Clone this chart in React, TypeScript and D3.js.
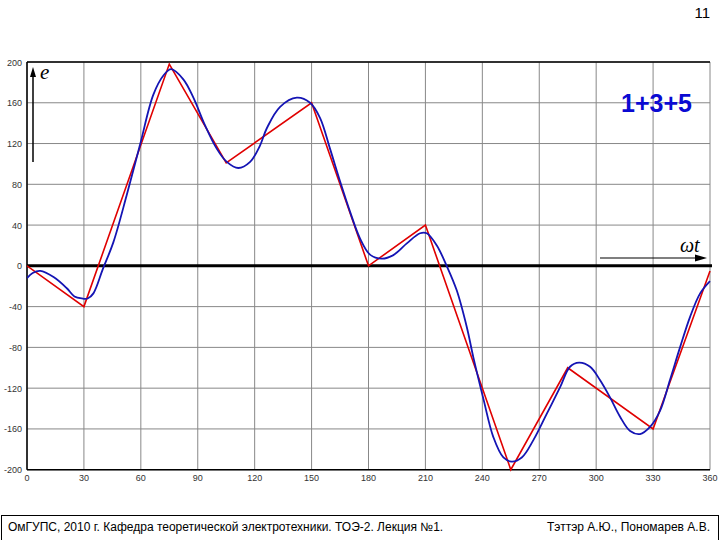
import React from "react";
import * as d3 from "d3";

const xTicks = [0, 30, 60, 90, 120, 150, 180, 210, 240, 270, 300, 330, 360];
const yTicks = [200, 160, 120, 80, 40, 0, -40, -80, -120, -160, -200];
const yTickLabels = ["200", "160", "120", "80", "40", "0", "-40", "-80", "-120", "-160", "-200"];

// red piecewise-linear sum
const redX = [0, 30, 75, 105, 150, 180, 210, 255, 285, 330, 360];
const redY = [0, -40, 198, 101, 160, 0, 40, -200, -100, -160, -5];

// blue smooth sum (1+3+5 harmonics)
const blueX = [0, 3, 7, 14, 21, 25, 29, 32, 35, 40, 45.5, 52.5, 59.6, 66.6, 72, 76, 82.4, 87.7, 93.8, 100, 105.3, 111.4, 117.6, 122.8, 126.4, 133.4, 142.2, 149.2, 154.5, 159.7, 165, 170.3, 175.5, 180.8, 187, 193.1, 200.2, 207.2, 210.7, 216, 221.2, 226.5, 231.8, 235.3, 240.5, 245.8, 251.1, 255.5, 260.8, 266.9, 274, 281, 286.2, 291, 296.8, 302, 307.3, 312.6, 317.9, 323.1, 328.4, 333.7, 338.9, 344.2, 349.5, 354.8, 360];
const blueY = [-12, -7, -5, -11, -22, -30, -32, -32, -27, -3, 23, 69, 119, 168, 187, 193, 183, 165, 138, 115, 102, 96, 102, 118, 135, 156, 165, 160, 145, 115, 83, 53, 27, 11, 7, 10.5, 22, 32, 32, 20, 0, -24, -60, -90, -130, -168, -188, -192, -188, -171, -145, -119, -99, -95, -99, -112, -129, -148, -162, -165, -158, -142, -112, -80, -50, -27, -15];

export default function App() {
  const x = d3.scaleLinear().domain([0, 360]).range([27, 710]);
  const y = d3.scaleLinear().domain([-200, 200]).range([469.7, 62]);

  const redPts: [number, number][] = redX.map((v, i) => [v, redY[i]]);
  const bluePts: [number, number][] = blueX.map((v, i) => [v, blueY[i]]);

  const redLine = d3.line<[number, number]>().x(d => x(d[0])).y(d => y(d[1]));
  const blueLine = d3
    .line<[number, number]>()
    .x(d => x(d[0]))
    .y(d => y(d[1]))
    .curve(d3.curveCatmullRom.alpha(0.5));

  const sans = "'Liberation Sans', Arial, sans-serif";
  const serif = "'Liberation Serif', 'Times New Roman', serif";

  return (
    <svg
      width={720}
      height={540}
      style={{ position: "absolute", left: 0, top: 0, background: "#fff" }}
    >
      <defs>
        <clipPath id="plotclip">
          <rect x={27} y={60} width={684} height={412} />
        </clipPath>
      </defs>
      <rect x={0} y={0} width={720} height={540} fill="#fff" />
      <text x={710} y={18} textAnchor="end" fontFamily={sans} fontSize={15} fill="#000">
        11
      </text>

      {/* grid */}
      {xTicks.map(t => (
        <line key={"gx" + t} x1={x(t)} x2={x(t)} y1={y(200)} y2={y(-200)} stroke="#888" strokeWidth={1} />
      ))}
      {yTicks.map(t => (
        <line key={"gy" + t} x1={x(0)} x2={x(360)} y1={y(t)} y2={y(t)} stroke="#888" strokeWidth={1} />
      ))}

      {/* frame */}
      <line x1={x(0)} x2={x(360)} y1={y(200)} y2={y(200)} stroke="#000" strokeWidth={1.5} />
      <line x1={x(0)} x2={x(0)} y1={y(200)} y2={y(-200)} stroke="#000" strokeWidth={1.5} />
      <line x1={x(0)} x2={x(360)} y1={y(-200)} y2={y(-200)} stroke="#000" strokeWidth={1.5} />
      <line x1={x(0)} x2={x(360) + 2} y1={y(0)} y2={y(0)} stroke="#000" strokeWidth={3} />

      {/* tick labels */}
      {yTicks.map((t, i) => (
        <text key={"ly" + t} x={22} y={y(t) + 3.5} textAnchor="end" fontFamily={sans} fontSize={9} fill="#333">
          {yTickLabels[i]}
        </text>
      ))}
      {xTicks.map(t => (
        <text key={"lx" + t} x={x(t)} y={481} textAnchor="middle" fontFamily={sans} fontSize={9} fill="#333">
          {t}
        </text>
      ))}

      {/* curves */}
      <g clipPath="url(#plotclip)">
        <path d={redLine(redPts) || ""} fill="none" stroke="#e00000" strokeWidth={1.6} />
        <path d={blueLine(bluePts) || ""} fill="none" stroke="#1414b4" strokeWidth={1.8} />
      </g>

      {/* e arrow */}
      <line x1={33} x2={33} y1={162} y2={74} stroke="#000" strokeWidth={1.5} />
      <path d="M33,67 L30,77 L36,77 Z" fill="#000" />
      <text x={40} y={79} fontFamily={serif} fontStyle="italic" fontSize={21} fill="#000">
        e
      </text>

      {/* wt arrow */}
      <line x1={600} x2={700} y1={258} y2={258} stroke="#000" strokeWidth={1.2} />
      <path d="M707,258 L695,254.5 L695,261.5 Z" fill="#000" />
      <text x={680} y={252} fontFamily={serif} fontStyle="italic" fontSize={20} fill="#000">
        ωt
      </text>

      {/* series label */}
      <text x={692} y={112} textAnchor="end" fontFamily={sans} fontWeight="bold" fontSize={25} fill="#0a0ad2">
        1+3+5
      </text>

      {/* footer */}
      <rect x={1.5} y={515.5} width={717} height={30} fill="none" stroke="#000" strokeWidth={1} />
      <text x={8} y={531} fontFamily={sans} fontSize={12} fill="#000">
        ОмГУПС, 2010 г. Кафедра теоретической электротехники. ТОЭ-2. Лекция №1.
      </text>
      <text x={710} y={531} textAnchor="end" fontFamily={sans} fontSize={12} fill="#000">
        Тэттэр А.Ю., Пономарев А.В.
      </text>
    </svg>
  );
}
